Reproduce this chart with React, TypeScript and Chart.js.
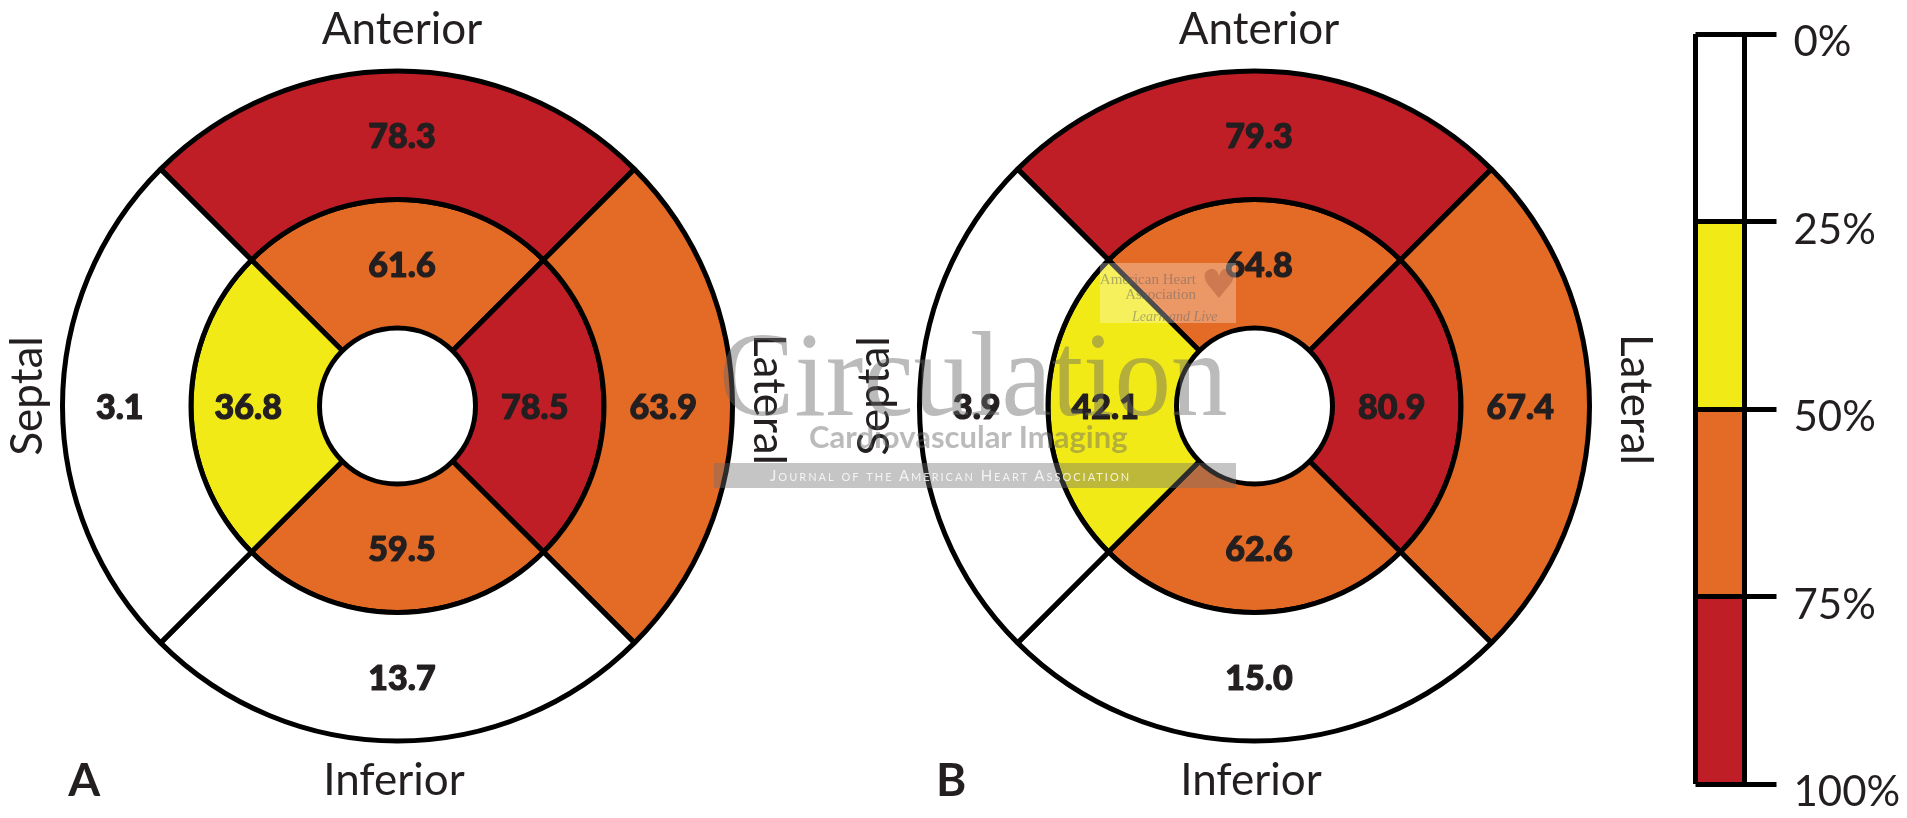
import React, { useEffect, useRef } from 'react';
import { Chart, registerables } from 'chart.js';

Chart.register(...registerables);

// ---------- data ----------
const segmentNames = ['Anterior', 'Lateral', 'Inferior', 'Septal'];
const quadrantShare = [1, 1, 1, 1];
const outerRingA = [78.3, 63.9, 13.7, 3.1];
const innerRingA = [61.6, 78.5, 59.5, 36.8];
const outerRingB = [79.3, 67.4, 15.0, 3.9];
const innerRingB = [64.8, 80.9, 62.6, 42.1];
const scaleStops = [0, 25, 50, 75, 100];
const scaleTickLabels = ['0%', '25%', '50%', '75%', '100%'];
const binColors = ['#FFFFFF', '#F2EA16', '#E46B25', '#BF1E27'];

// ---------- style ----------
const INK = '#231F20';
const FONT = 'Lato, "Open Sans", sans-serif';
const labelNudgeX = [4.5, -5, 4.5, -7];

function colorFor(v: number): string {
  for (let i = 0; i < binColors.length; i++) {
    if (v < scaleStops[i + 1]) return binColors[i];
  }
  return binColors[binColors.length - 1];
}

type BullProps = {
  left: number;
  width: number;
  padL: number;
  padR: number;
  outer: number[];
  inner: number[];
  letter: string;
  sideGap: number;
  letterDx: number;
};

function Bullseye(props: BullProps) {
  const ref = useRef<HTMLCanvasElement>(null);
  useEffect(() => {
    const canvas = ref.current;
    if (!canvas) return;
    const { outer, inner, letter, sideGap, letterDx, padL, padR } = props;
    const textPlugin = {
      id: 'bullseyeText',
      afterDatasetsDraw(chart: any) {
        const { ctx, chartArea } = chart;
        const cx = (chartArea.left + chartArea.right) / 2;
        const cy = (chartArea.top + chartArea.bottom) / 2;
        ctx.save();
        ctx.fillStyle = INK;
        ctx.strokeStyle = INK;
        ctx.lineWidth = 1.2;
        ctx.lineJoin = 'round';
        ctx.textAlign = 'center';
        ctx.textBaseline = 'middle';
        ctx.font = `900 34px ${FONT}`;
        chart.data.datasets.forEach((ds: any, di: number) => {
          chart.getDatasetMeta(di).data.forEach((arc: any, i: number) => {
            const p = arc.tooltipPosition();
            const t = ds.percent[i].toFixed(1);
            ctx.fillText(t, p.x + labelNudgeX[i], p.y + 2);
            ctx.strokeText(t, p.x + labelNudgeX[i], p.y + 2);
          });
        });
        ctx.font = `44px ${FONT}`;
        ctx.textBaseline = 'alphabetic';
        ctx.fillText(segmentNames[0], cx + 4.5, cy - 362);
        ctx.fillText(segmentNames[2], cx - 3.5, cy + 389);
        ctx.save();
        ctx.translate(cx + sideGap, cy - 6.5);
        ctx.rotate(Math.PI / 2);
        ctx.fillText(segmentNames[1], 0, 0);
        ctx.restore();
        ctx.save();
        ctx.translate(cx - sideGap, cy - 10);
        ctx.rotate(-Math.PI / 2);
        ctx.fillText(segmentNames[3], 0, 0);
        ctx.restore();
        ctx.font = `bold 46px ${FONT}`;
        ctx.textAlign = 'left';
        ctx.fillText(letter, cx + letterDx, cy + 390);
        ctx.restore();
      },
    };
    const chart = new Chart(canvas, {
      type: 'doughnut',
      data: {
        labels: segmentNames,
        datasets: [
          {
            data: quadrantShare,
            percent: outer,
            backgroundColor: outer.map(colorFor),
            borderColor: '#000',
            borderWidth: 5,
            hoverBorderWidth: 5,
          } as any,
          {
            data: quadrantShare,
            percent: inner,
            backgroundColor: inner.map(colorFor),
            borderColor: '#000',
            borderWidth: 5,
            hoverBorderWidth: 5,
          } as any,
        ],
      },
      options: {
        animation: false,
        responsive: false,
        devicePixelRatio: 1,
        rotation: -45,
        cutout: 78,
        events: [],
        layout: { padding: { left: padL, right: padR, top: 68.5, bottom: 74.5 } },
        plugins: { legend: { display: false }, tooltip: { enabled: false } },
      } as any,
      plugins: [textPlugin],
    });
    return () => chart.destroy();
  }, []);
  return (
    <canvas
      ref={ref}
      width={props.width}
      height={818}
      style={{ position: 'absolute', left: props.left, top: 0 }}
    />
  );
}

function ScaleBar() {
  const ref = useRef<HTMLCanvasElement>(null);
  useEffect(() => {
    const canvas = ref.current;
    if (!canvas) return;
    const chart = new Chart(canvas, {
      type: 'bar',
      data: {
        labels: [''],
        datasets: binColors.map((c, i) => ({
          data: [[scaleStops[i], scaleStops[i + 1]]],
          backgroundColor: c,
          borderWidth: 0,
          barPercentage: 1,
          categoryPercentage: 1,
          grouped: false,
        })) as any,
      },
      options: {
        animation: false,
        responsive: false,
        devicePixelRatio: 1,
        events: [],
        layout: { padding: { left: 15.5, right: 0, top: 20, bottom: 30.5 } },
        plugins: { legend: { display: false }, tooltip: { enabled: false } },
        scales: {
          x: {
            type: 'category',
            offset: true,
            grid: { display: true, offset: true, drawOnChartArea: true, drawTicks: false, color: '#000', lineWidth: 5, z: 1 },
            ticks: { display: false },
            border: { display: false },
            afterFit: (s: any) => { s.height = 0; },
          },
          y: {
            position: 'right',
            min: scaleStops[0],
            max: scaleStops[scaleStops.length - 1],
            reverse: true,
            ticks: {
              stepSize: 25,
              color: INK,
              padding: 17,
              font: { family: FONT, size: 42, lineHeight: '17px' },
              callback: (v: any) => ['', scaleTickLabels[scaleStops.indexOf(Number(v))]],
            },
            grid: { color: '#000', lineWidth: 5, tickLength: 32, drawOnChartArea: true, z: 1 },
            border: { display: false },
            afterFit: (s: any) => { s.width = 162.5; },
          },
        },
      } as any,
    });
    return () => chart.destroy();
  }, []);
  return (
    <canvas ref={ref} width={227} height={818} style={{ position: 'absolute', left: 1680, top: 0 }} />
  );
}

function Watermark() {
  const grey = 'rgba(105,105,105,0.45)';
  return (
    <div style={{ position: 'absolute', left: 0, top: 0, width: 1907, height: 818, pointerEvents: 'none' }}>
      <div
        style={{
          position: 'absolute', left: 1100, top: 263, width: 136, height: 60,
          background: 'rgba(255,255,255,0.3)',
        }}
      >
        <div style={{ position: 'absolute', right: 40, top: 9, textAlign: 'right', font: '15px "Liberation Serif", serif', lineHeight: '15px', color: 'rgba(100,100,100,0.5)', whiteSpace: 'nowrap' }}>
          American Heart<br />Association
        </div>
        <div style={{ position: 'absolute', left: 32, top: 47, font: 'italic 14px "Liberation Serif", serif', lineHeight: '14px', color: 'rgba(100,100,100,0.5)', whiteSpace: 'nowrap' }}>
          Learn and Live
        </div>
        <div style={{ position: 'absolute', left: 101, top: -2, font: '40px "DejaVu Sans", sans-serif', lineHeight: '46px', color: 'rgba(150,70,40,0.35)' }}>
          ♥
        </div>
      </div>
      <div
        style={{
          position: 'absolute', left: 719, top: 313.7, font: '121px "Liberation Serif", serif', lineHeight: '121px',
          color: grey, whiteSpace: 'nowrap', transform: 'scaleX(0.934)', transformOrigin: 'left top',
        }}
      >
        Circulation
      </div>
      <div
        style={{
          position: 'absolute', left: 809, top: 420.8, font: `bold 31px ${FONT}`, lineHeight: '31px',
          color: grey, whiteSpace: 'nowrap',
        }}
      >
        Cardiovascular Imaging
      </div>
      <div
        style={{
          position: 'absolute', left: 714, top: 463, width: 522, height: 25, background: 'rgba(110,110,110,0.4)',
          color: 'rgba(255,255,255,0.8)', font: `15px ${FONT}`, fontVariant: 'small-caps', letterSpacing: '2px',
          lineHeight: '25px', paddingLeft: 56, boxSizing: 'border-box', whiteSpace: 'nowrap',
        }}
      >
        Journal of the American Heart Association
      </div>
    </div>
  );
}

export default function App() {
  return (
    <div style={{ position: 'absolute', left: 0, top: 0, width: 1907, height: 818, background: '#fff', overflow: 'hidden' }}>
      <Bullseye left={0} width={828} padL={60} padR={93} outer={outerRingA} inner={innerRingA} letter="A" sideGap={356} letterDx={-329.2} />
      <Bullseye left={828} width={852} padL={89} padR={88} outer={outerRingB} inner={innerRingB} letter="B" sideGap={366} letterDx={-318.5} />
      <ScaleBar />
      <Watermark />
    </div>
  );
}
